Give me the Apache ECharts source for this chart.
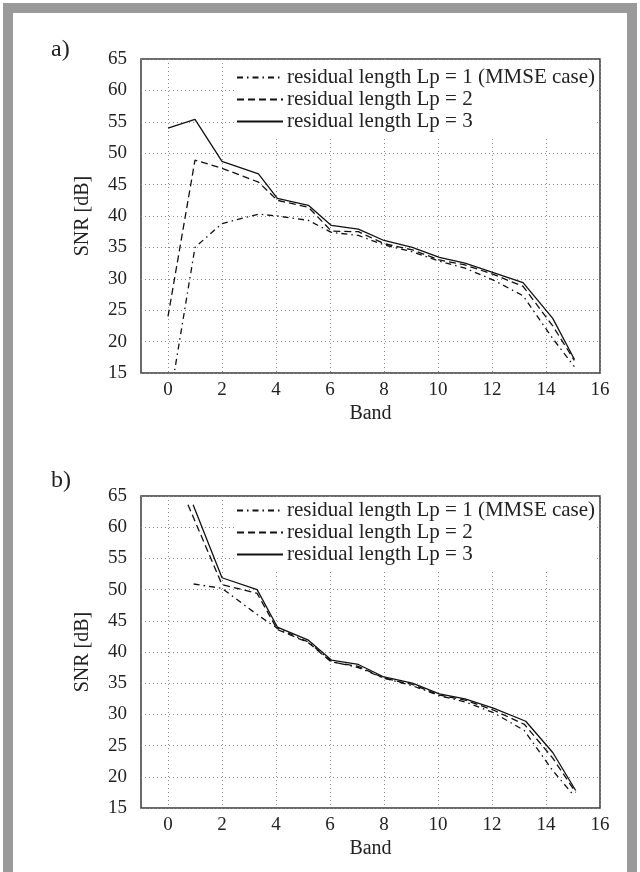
<!DOCTYPE html>
<html><head><meta charset="utf-8">
<script src="https://cdn.jsdelivr.net/npm/echarts@6/dist/echarts.min.js"></script>
<style>
html,body{margin:0;padding:0;background:#fff;}
#frame{position:absolute;left:3px;top:3px;width:634px;height:880px;box-sizing:border-box;border:10px solid #9a9a9a;border-bottom:none;}
#chart{position:absolute;left:0;top:0;width:640px;height:872px;}
</style></head><body>
<div id="frame"></div>
<div id="chart"></div>
<script>
// ---------- data ----------
const seriesNames = ['residual length Lp = 1 (MMSE case)', 'residual length Lp = 2', 'residual length Lp = 3'];
const xTickValues = [0, 2, 4, 6, 8, 10, 12, 14, 16];

// a) band positions and SNR [dB]
const bandsA = [0, 1, 2, 3.35, 4.05, 5.2, 6.05, 7.05, 8, 9.05, 10.05, 11, 12.05, 13.15, 14.25, 15.05];
const snrA_lp1 = [9, 35, 38.8, 40.3, 40, 39.3, 37.4, 36.9, 35.4, 34.3, 32.8, 31.7, 29.8, 27.3, 20.5, 16];
const snrA_lp2 = [24, 48.9, 47.6, 45.4, 42.5, 41.4, 37.6, 37.5, 35.6, 34.6, 33, 32.2, 30.7, 28.8, 22.5, 17];
const snrA_lp3 = [54, 55.4, 48.7, 46.7, 42.8, 41.7, 38.5, 37.9, 36.1, 35, 33.4, 32.5, 31, 29.4, 23.7, 17.2];

// b) band positions and SNR [dB]
const bandsB_lp1 = [0.95, 2, 3.3, 4.05, 5.2, 6.05, 7.05, 8, 9.05, 10.05, 11, 12.05, 13.2, 14.25, 15.05];
const bandsB_lp2 = [0.74, 2, 3.3, 4.05, 5.2, 6.05, 7.05, 8, 9.05, 10.05, 11, 12.05, 13.2, 14.25, 15.1];
const bandsB_lp3 = [0.93, 2, 3.3, 4.05, 5.2, 6.05, 7.05, 8, 9.05, 10.05, 11, 12.05, 13.25, 14.25, 15.1];
const snrB_lp1 = [50.9, 50.2, 46, 43.8, 41.6, 38.5, 37.5, 35.8, 34.6, 33, 32, 30.3, 27.4, 21, 16.9];
const snrB_lp2 = [63.6, 50.8, 49.4, 43.6, 41.5, 38.4, 37.7, 35.8, 34.8, 33.1, 32.3, 30.7, 28.4, 23, 17.5];
const snrB_lp3 = [63.6, 51.9, 50, 44, 41.9, 38.7, 38, 36, 35, 33.3, 32.5, 31, 28.9, 23.9, 17.8];

// ---------- styles ----------
const FONT = 'Liberation Serif';
const TXT = '#222';
const dashStyles = [[6, 4, 1.5, 4], [7, 4], 'solid'];

function pairs(xs, ys) { return xs.map((x, i) => [x, ys[i]]); }

function xAxis(gi) {
  return {
    type: 'value', gridIndex: gi, min: -1, max: 16,
    axisLine: { show: false },
    axisTick: { show: false, customValues: xTickValues },
    axisLabel: { customValues: xTickValues, fontFamily: FONT, fontSize: 19, color: TXT, margin: 8 },
    splitLine: { show: true, lineStyle: { type: [1, 3], color: '#8a8a8a', width: 1 } },
    name: 'Band', nameLocation: 'middle', nameGap: 31,
    nameTextStyle: { fontFamily: FONT, fontSize: 20, color: TXT }
  };
}
function yAxis(gi) {
  return {
    type: 'value', gridIndex: gi, min: 15, max: 65, interval: 5,
    axisLine: { show: false }, axisTick: { show: false },
    axisLabel: { fontFamily: FONT, fontSize: 19, color: TXT, margin: 14 },
    splitLine: { show: true, lineStyle: { type: [1, 3], color: '#8a8a8a', width: 1 } },
    name: 'SNR [dB]', nameLocation: 'middle', nameGap: 48, nameRotate: 90,
    nameTextStyle: { fontFamily: FONT, fontSize: 20, color: TXT }
  };
}
function legend(top, padTop) {
  return {
    orient: 'vertical', left: 234, top: top, data: seriesNames,
    itemWidth: 46, itemHeight: 14, itemGap: 1, padding: [padTop, 2, 4, 2],
    backgroundColor: '#fff', selectedMode: false,
    itemStyle: { opacity: 0 },
    textStyle: { fontFamily: FONT, fontSize: 21, lineHeight: 20, color: TXT, padding: [0, 0, 0, -1] }
  };
}
function line(name, gi, data, k) {
  return {
    name: name, type: 'line', xAxisIndex: gi, yAxisIndex: gi, data: data,
    symbol: 'none', clip: true, z: 3,
    lineStyle: { color: '#111', width: 1.3, type: dashStyles[k] }
  };
}

const chart = echarts.init(document.getElementById('chart'));
chart.setOption({
  animation: false,
  title: [
    { text: 'a)', left: 46, top: 33, textStyle: { fontFamily: FONT, fontSize: 24, fontWeight: 'normal', color: TXT } },
    { text: 'b)', left: 46, top: 464, textStyle: { fontFamily: FONT, fontSize: 24, fontWeight: 'normal', color: TXT } }
  ],
  grid: [
    { left: 141, top: 59, width: 459, height: 314, show: true, borderColor: '#3a3a3a', borderWidth: 1.5 },
    { left: 141, top: 496, width: 459, height: 312, show: true, borderColor: '#3a3a3a', borderWidth: 1.5 }
  ],
  xAxis: [xAxis(0), xAxis(1)],
  yAxis: [yAxis(0), yAxis(1)],
  legend: [legend(61, 6), legend(498, 2)],
  series: [
    line(seriesNames[0], 0, pairs(bandsA, snrA_lp1), 0),
    line(seriesNames[1], 0, pairs(bandsA, snrA_lp2), 1),
    line(seriesNames[2], 0, pairs(bandsA, snrA_lp3), 2),
    line(seriesNames[0], 1, pairs(bandsB_lp1, snrB_lp1), 0),
    line(seriesNames[1], 1, pairs(bandsB_lp2, snrB_lp2), 1),
    line(seriesNames[2], 1, pairs(bandsB_lp3, snrB_lp3), 2)
  ]
});
</script></body></html>
